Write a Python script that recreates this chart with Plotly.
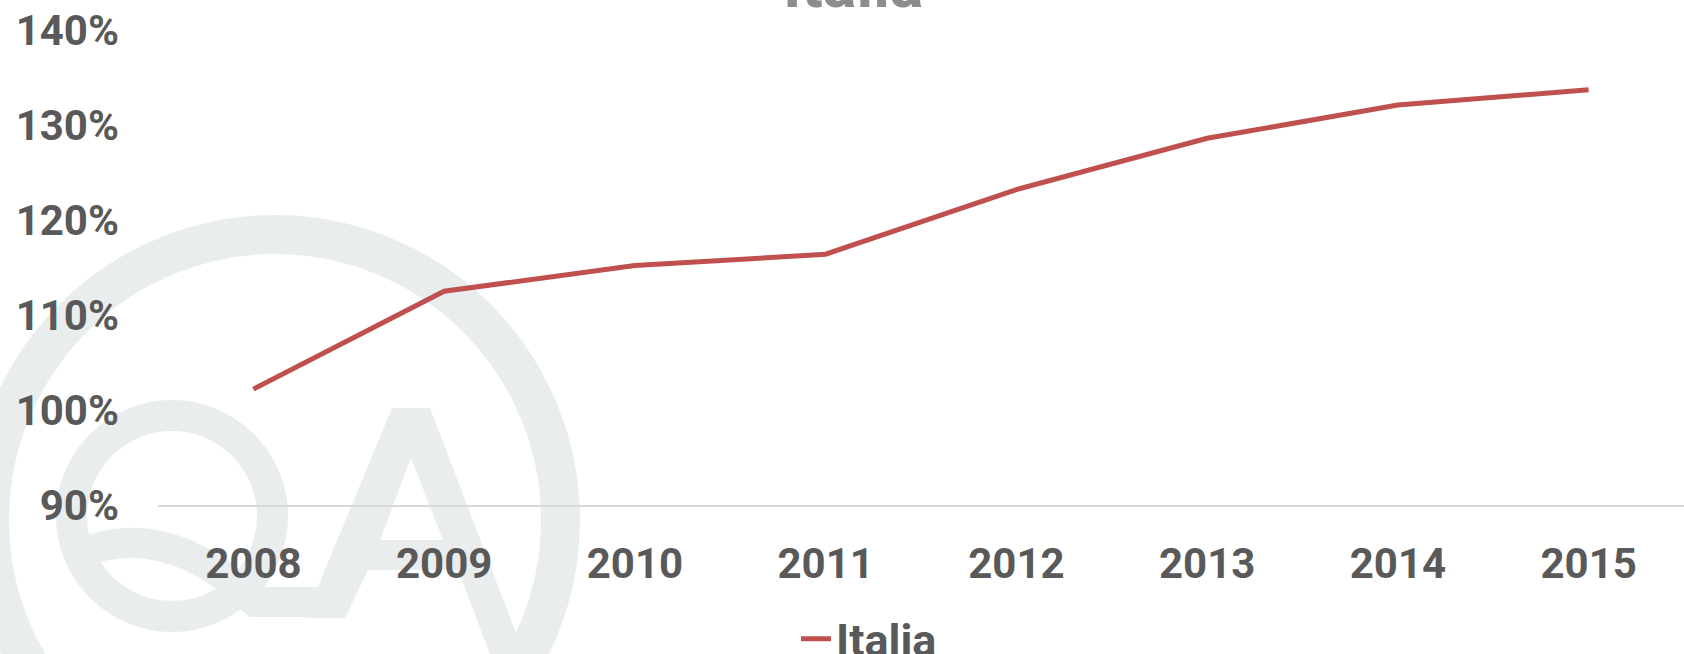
import plotly.graph_objects as go

years = ["2008", "2009", "2010", "2011", "2012", "2013", "2014", "2015"]
italia = [102.2, 112.5, 115.2, 116.4, 123.2, 128.6, 132.1, 133.7]
y_ticks = [90, 100, 110, 120, 130, 140]
y_tick_labels = ["90%", "100%", "110%", "120%", "130%", "140%"]

W, H = 1684, 654
ML, MR, MT, MB = 158, 0, 30, 149
PW, PH = W - ML - MR, H - MT - MB

def px(x):
    return (x - ML) / PW

def py(y):
    return (H - MB - y) / PH

WM = "#e9eded"
FONT = "Roboto"
TXT = "#595959"

shapes = []

def ring(cx, cy, r, w):
    return dict(type="circle", xref="paper", yref="paper",
                x0=px(cx - r), x1=px(cx + r), y0=py(cy + r), y1=py(cy - r),
                line=dict(color=WM, width=w), fillcolor="rgba(0,0,0,0)", layer="below")

shapes.append(ring(275, 520, 285.5, 39))
shapes.append(ring(172, 516, 100.5, 31))

def path(points, close=True):
    s = "M " + " L ".join(f"{px(x):.5f},{py(y):.5f}" for x, y in points)
    return s + (" Z" if close else "")

# Q tail
tail = f"M {px(72):.5f},{py(556):.5f} Q {px(165):.5f},{py(515):.5f} {px(255):.5f},{py(602):.5f} L {px(345):.5f},{py(602):.5f}"
shapes.append(dict(type="path", xref="paper", yref="paper", path=tail,
                   line=dict(color=WM, width=30), layer="below"))
# A letter
outer = path([(392, 408), (430, 408), (524, 654), (490, 654), (458, 570), (368, 570), (345, 618), (305, 618)])
inner = path([(411, 458), (380, 540), (443, 540)])
shapes.append(dict(type="path", xref="paper", yref="paper", path=outer + " " + inner,
                   fillcolor=WM, line=dict(width=0), layer="below"))

fig = go.Figure()
fig.add_trace(go.Scatter(
    x=years, y=italia, mode="lines", name="Italia",
    line=dict(color="#c0504d", width=5),
))

fig.update_layout(
    width=W, height=H,
    margin=dict(l=ML, r=MR, t=MT, b=MB, autoexpand=False),
    paper_bgcolor="white", plot_bgcolor="rgba(0,0,0,0)",
    font=dict(family=FONT, color=TXT, size=42),
    showlegend=True,
    legend=dict(orientation="h", x=px(796), xanchor="left", y=py(603), yanchor="top",
                font=dict(family=FONT, size=45, color=TXT, weight="bold"),
                bgcolor="rgba(0,0,0,0)"),
    shapes=shapes,
    annotations=[dict(text="<b>Italia</b>", xref="paper", yref="paper",
                      x=px(853), y=1, xanchor="center", yanchor="bottom", yshift=6,
                      showarrow=False, font=dict(family=FONT, size=63, color="#8c8c8c"))],
)
fig.update_xaxes(
    type="category", range=[-0.5, 7.5], showgrid=False, zeroline=False,
    showline=True, linecolor="#d9d9d9", linewidth=2, ticks="", automargin=False,
    tickfont=dict(family=FONT, size=42, color=TXT, weight="bold"),
    ticklabelstandoff=21,
)
fig.update_yaxes(
    range=[90, 140], tickvals=y_ticks, ticktext=y_tick_labels,
    showgrid=False, zeroline=False, showline=False, ticks="", automargin=False,
    tickfont=dict(family=FONT, size=42, color=TXT, weight="bold"),
    ticklabelstandoff=38,
)

fig.write_html("out.html")
